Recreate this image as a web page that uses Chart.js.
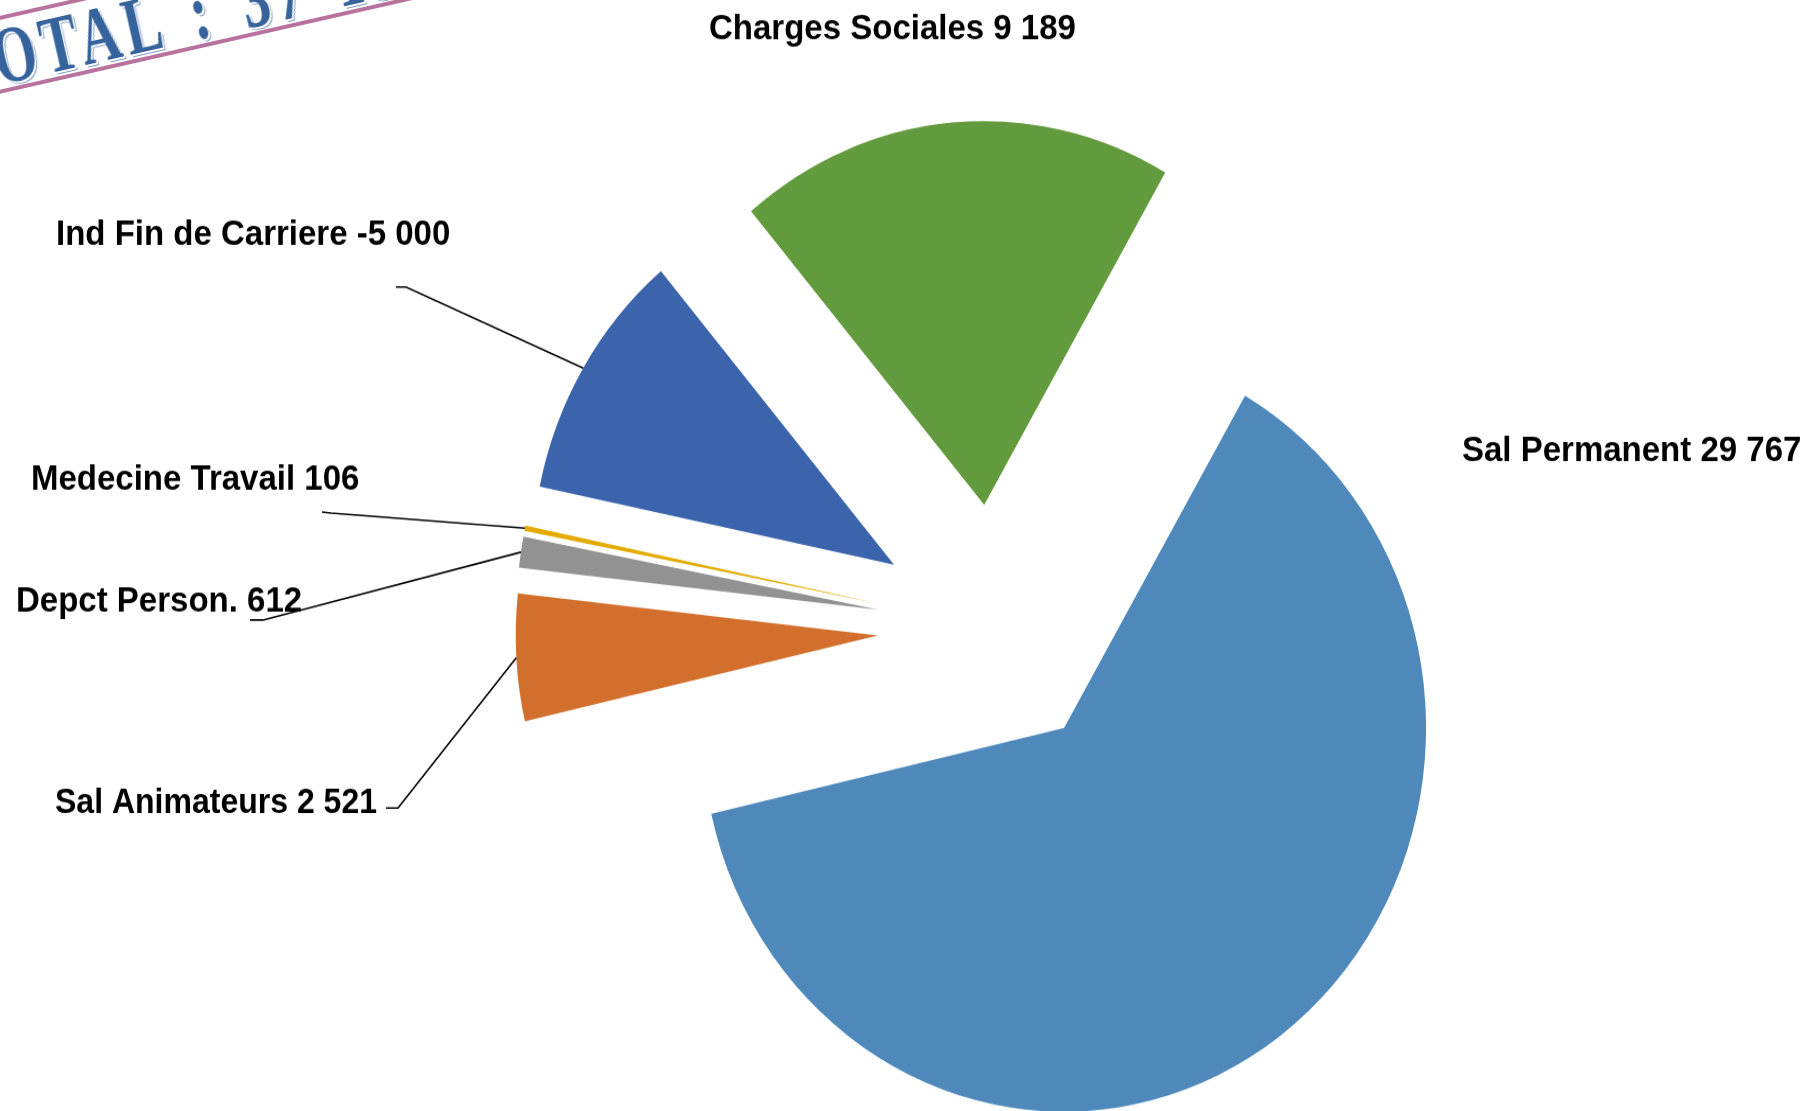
<!DOCTYPE html>
<html>
<head>
<meta charset="utf-8">
<script src="https://cdn.jsdelivr.net/npm/chart.js@4.4.0/dist/chart.umd.min.js"></script>
<style>
  html, body { margin: 0; padding: 0; background: #fff; overflow: hidden; }
  body { width: 1814px; height: 1111px; position: relative; }
  #wrap {
    position: absolute; left: 0; top: 0;
    width: 1814px; height: 1048px;
    transform: scaleY(1.06); transform-origin: 0 0;
  }
  #stamp {
    position: absolute; left: -80px; top: 34px;
    width: 720px; height: 76px; box-sizing: border-box;
    border-top: 4px solid #b8729e; border-bottom: 4px solid #b8729e;
    transform: rotate(-12.8deg); transform-origin: 0 0;
    padding-left: 24px; padding-top: 2px;
    white-space: nowrap;
  }
  #stamp span {
    display: inline-block;
    transform: scaleX(0.7); transform-origin: 0 50%;
    font-family: "Liberation Serif", "DejaVu Serif", serif;
    font-weight: bold; font-size: 80px; line-height: 68px;
    letter-spacing: 8px; word-spacing: 12px;
    color: #36639b;
    text-shadow: 2px 2px 0 #fff, 3px 3px 0 #7d9bc6;
  }
</style>
</head>
<body>
<div id="wrap"><canvas id="pie" width="1814" height="1048"></canvas></div>
<div id="stamp"><span id="stamp-text"></span></div>
<script>
// data (clockwise from the top-right edge)
const categories = ["Sal Permanent", "Sal Animateurs", "Depct Person.", "Medecine Travail", "Ind Fin de Carriere", "Charges Sociales"];
const amounts = [29767, 2521, 612, 106, -5000, 9189];
const sliceColors = ["#4f89bc", "#d36f2c", "#929292", "#e3ab00", "#3c64ac", "#629a3e"];

const STRETCH = 1.06;   // picture is a bit taller than wide
const RADIUS = 362;
const EXPLODE = 117;

function fmt(v) {
  const s = String(Math.abs(v)).replace(/\B(?=(\d{3})+(?!\d))/g, " ");
  return (v < 0 ? "-" : "") + s;
}

const total = amounts.reduce((a, b) => a + b, 0);
document.getElementById("stamp-text").textContent = "TOTAL : " + fmt(total);

// label placement in picture pixels: left x, baseline y, leader start segment
const labelLayout = [
  { x: 1462, y: 461 },
  { x: 55, y: 813, maxW: 322, lead: [[386, 808], [398, 808]] },
  { x: 16, y: 612, lead: [[250, 620], [263, 620]] },
  { x: 31, y: 490, lead: [[322, 512], [331, 513]] },
  { x: 56, y: 245, lead: [[396, 287], [406, 287]] },
  { x: 709, y: 39 },
];

const explodePlugin = {
  id: "explode",
  beforeDatasetsDraw(chart) {
    const a = chart.chartArea;
    const cx = (a.left + a.right) / 2;
    const cy = (a.top + a.bottom) / 2;
    chart.getDatasetMeta(0).data.forEach((arc) => {
      const mid = (arc.startAngle + arc.endAngle) / 2;
      arc.x = cx + EXPLODE * Math.cos(mid);
      arc.y = cy + EXPLODE * Math.sin(mid);
    });
  },
};

const labelPlugin = {
  id: "sliceLabels",
  afterDatasetsDraw(chart) {
    const ctx = chart.ctx;
    const arcs = chart.getDatasetMeta(0).data;
    ctx.save();
    ctx.font = "bold 33px 'Liberation Sans', Arial, sans-serif";
    ctx.fillStyle = "#000";
    ctx.textBaseline = "alphabetic";
    ctx.textAlign = "left";
    ctx.strokeStyle = "#000";
    ctx.lineWidth = 1.6;
    categories.forEach((name, i) => {
      const pos = labelLayout[i];
      const text = name + " " + fmt(amounts[i]);
      if (pos.maxW) ctx.fillText(text, pos.x, pos.y / STRETCH, pos.maxW);
      else ctx.fillText(text, pos.x, pos.y / STRETCH);
      if (pos.lead) {
        const arc = arcs[i];
        const mid = (arc.startAngle + arc.endAngle) / 2;
        ctx.beginPath();
        ctx.moveTo(pos.lead[0][0], pos.lead[0][1] / STRETCH);
        ctx.lineTo(pos.lead[1][0], pos.lead[1][1] / STRETCH);
        ctx.lineTo(arc.x + arc.outerRadius * Math.cos(mid), arc.y + arc.outerRadius * Math.sin(mid));
        ctx.stroke();
      }
    });
    ctx.restore();
  },
};

new Chart(document.getElementById("pie"), {
  type: "pie",
  data: {
    labels: categories,
    datasets: [{
      data: amounts,
      backgroundColor: sliceColors,
      borderWidth: 0,
    }],
  },
  options: {
    responsive: false,
    animation: false,
    rotation: 30,
    radius: RADIUS,
    layout: { padding: { left: 175, top: 137.4, right: 0, bottom: 0 } },
    plugins: {
      legend: { display: false },
      tooltip: { enabled: false },
    },
  },
  plugins: [explodePlugin, labelPlugin],
});
</script>
</body>
</html>
